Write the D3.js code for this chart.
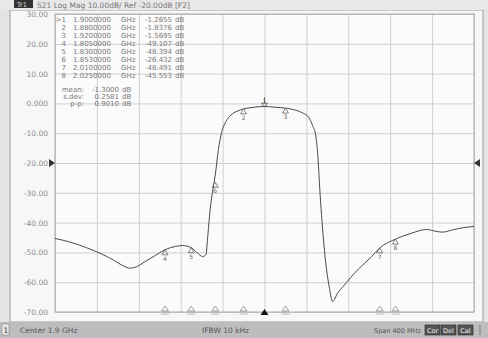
<!DOCTYPE html>
<html><head><meta charset="utf-8">
<script src="https://cdn.jsdelivr.net/npm/d3@7"></script>
<style>
html,body{margin:0;padding:0;background:#e6e6e6;}
svg{display:block;}
text{font-family:"DejaVu Sans",sans-serif;}
</style></head>
<body><svg id="c" width="488" height="338"></svg>
<script>
// ---- data ----
const freqGHz = [1.700,1.715,1.730,1.745,1.757,1.765,1.772,1.778,1.785,1.795,1.805,1.815,1.822,1.830,1.836,1.841,1.844,1.846,1.848,1.850,1.853,1.856,1.859,1.863,1.868,1.874,1.880,1.890,1.900,1.910,1.920,1.930,1.937,1.942,1.946,1.949,1.951,1.953,1.955,1.958,1.962,1.965,1.970,1.975,1.982,1.990,1.996,2.002,2.010,2.025,2.040,2.055,2.062,2.070,2.080,2.090,2.100];
const s21dB  = [-45.3,-46.6,-48.4,-50.6,-52.8,-54.5,-55.3,-54.8,-53.3,-51.2,-49.1,-48.0,-47.7,-48.4,-50.2,-51.4,-50.8,-44.0,-36.0,-30.5,-24.0,-15.5,-9.8,-6.2,-3.9,-2.6,-1.84,-1.3,-1.0,-1.3,-1.57,-2.3,-3.3,-4.6,-7.5,-11.0,-18.0,-30.0,-40.0,-52.0,-62.0,-66.5,-63.5,-61.5,-58.5,-55.5,-53.5,-51.5,-48.5,-45.55,-43.6,-42.3,-42.8,-43.2,-42.4,-41.7,-41.3];
const markerIds   = ["1","2","3","4","5","6","7","8"];
const markerFreq  = [1.9000000,1.8800000,1.9200000,1.8050000,1.8300000,1.8530000,2.0100000,2.0250000];
const markerValue = [-1.2655,-1.8376,-1.5695,-49.107,-48.394,-26.432,-48.491,-45.553];
const markerFreqText  = ["1.9000000","1.8800000","1.9200000","1.8050000","1.8300000","1.8530000","2.0100000","2.0250000"];
const markerValueText = ["-1.2655","-1.8376","-1.5695","-49.107","-48.394","-26.432","-48.491","-45.553"];
const statNames  = ["mean:","s.dev:","p-p:"];
const statValues = ["-1.3000","0.2581","0.9010"];
const yTicks  = [30,20,10,0,-10,-20,-30,-40,-50,-60,-70];
const yLabels = ["30.00","20.00","10.00","0.000","-10.00","-20.00","-30.00","-40.00","-50.00","-60.00","-70.00"];
const xTicks  = [1.70,1.74,1.78,1.82,1.86,1.90,1.94,1.98,2.02,2.06,2.10];
const titleText = "S21 Log Mag 10.00dB/ Ref -20.00dB [F2]";
const refLevel = -20;

// ---- layout ----
const svg = d3.select("#c");
const L=55,R=474,T=14,B=312;
const x = d3.scaleLinear().domain([1.7,2.1]).range([L,R]);
const y = d3.scaleLinear().domain([-70,30]).range([B,T]);

// background panels
svg.append("rect").attr("x",0).attr("y",0).attr("width",488).attr("height",338).attr("fill","#e4e4e4");
svg.append("rect").attr("x",10).attr("y",10).attr("width",473).attr("height",312).attr("fill","#f7f7f7").attr("stroke","#9a9a9a").attr("stroke-width",1);
svg.append("rect").attr("x",L).attr("y",T).attr("width",R-L).attr("height",B-T).attr("fill","#fbfbfb");

// title bar
svg.append("rect").attr("x",0).attr("y",0).attr("width",488).attr("height",10).attr("fill","#e8e8e8");
svg.append("rect").attr("x",14).attr("y",0).attr("width",19).attr("height",8).attr("fill","#333");
svg.append("text").attr("x",17).attr("y",7).attr("font-size",6.5).attr("fill","#ddd").text("Tr1");
svg.append("text").attr("x",37).attr("y",8).attr("font-size",7.5).attr("fill","#777").text(titleText);

// grid
const gx = svg.append("g").attr("transform",`translate(0,${B})`)
  .call(d3.axisBottom(x).tickValues(xTicks).tickSize(-(B-T)).tickFormat(""));
gx.select(".domain").remove();
gx.selectAll("line").attr("stroke","#cfcfcf").attr("stroke-width",1);
const gy = svg.append("g").attr("transform",`translate(${L},0)`)
  .call(d3.axisLeft(y).tickValues(yTicks).tickSize(-(R-L)).tickFormat((d,i)=>yLabels[i]).tickPadding(7));
gy.select(".domain").remove();
gy.selectAll("line").attr("stroke","#cfcfcf").attr("stroke-width",1);
gy.selectAll("text").attr("font-size",7.5).attr("fill","#8a8a8a").attr("font-family","DejaVu Sans");
svg.append("rect").attr("x",L).attr("y",T).attr("width",R-L).attr("height",B-T).attr("fill","none").attr("stroke","#a8a8a8");

// reference arrows
const ry = y(refLevel);
svg.append("path").attr("d",`M${L-6},${ry-4}L${L},${ry}L${L-6},${ry+4}Z`).attr("fill","#333");
svg.append("path").attr("d",`M${R+6},${ry-4}L${R},${ry}L${R+6},${ry+4}Z`).attr("fill","#333");

// marker table
const tbl = svg.append("g").attr("font-family","DejaVu Sans Mono").attr("font-size",7).attr("fill","#7a7a7a");
markerIds.forEach((id,i)=>{
  const ty = 22 + i*8;
  tbl.append("text").attr("x",66).attr("y",ty).attr("text-anchor","end").attr("font-family","DejaVu Sans Mono").text((i===0?">":"")+id);
  tbl.append("text").attr("x",73).attr("y",ty).attr("font-family","DejaVu Sans Mono").text(markerFreqText[i]);
  tbl.append("text").attr("x",121).attr("y",ty).attr("font-family","DejaVu Sans Mono").text("GHz");
  tbl.append("text").attr("x",172).attr("y",ty).attr("text-anchor","end").attr("font-family","DejaVu Sans Mono").text(markerValueText[i]);
  tbl.append("text").attr("x",175).attr("y",ty).attr("font-family","DejaVu Sans Mono").text("dB");
});
statNames.forEach((n,i)=>{
  const ty = 92 + i*7;
  tbl.append("text").attr("x",84).attr("y",ty).attr("text-anchor","end").attr("font-family","DejaVu Sans Mono").text(n);
  tbl.append("text").attr("x",119).attr("y",ty).attr("text-anchor","end").attr("font-family","DejaVu Sans Mono").text(statValues[i]);
  tbl.append("text").attr("x",122).attr("y",ty).attr("font-family","DejaVu Sans Mono").text("dB");
});

// trace
const line = d3.line().x((d,i)=>x(freqGHz[i])).y(d=>y(d)).curve(d3.curveMonotoneX);
svg.append("path").datum(s21dB).attr("d",line).attr("fill","none").attr("stroke","#4a4a4a").attr("stroke-width",1);

// markers on trace
const mg = svg.append("g");
markerIds.forEach((id,i)=>{
  const mx = x(markerFreq[i]), my = y(markerValue[i]);
  if(i===0){
    mg.append("line").attr("x1",mx).attr("x2",mx).attr("y1",my-10).attr("y2",my-4).attr("stroke","#666");
    mg.append("path").attr("d",`M${mx-3},${my-4}L${mx+3},${my-4}L${mx},${my}Z`).attr("fill","none").attr("stroke","#555").attr("stroke-width",0.8);
    mg.append("text").attr("x",mx).attr("y",my-4).attr("text-anchor","middle").attr("font-size",6).attr("fill","#666").text(id);
  } else {
    mg.append("path").attr("d",`M${mx},${my}L${mx-3},${my+5}L${mx+3},${my+5}Z`).attr("fill","none").attr("stroke","#666").attr("stroke-width",0.8);
    mg.append("text").attr("x",mx).attr("y",my+11).attr("text-anchor","middle").attr("font-size",6).attr("fill","#666").text(id);
  }
  // bottom indicators
  if(i===0){
    mg.append("path").attr("d",`M${mx-4},${B+3}L${mx+4},${B+3}L${mx},${B-3}Z`).attr("fill","#111");
  } else {
    mg.append("path").attr("d",`M${mx-3.5},${B-1}L${mx+3.5},${B-1}L${mx},${B-6}Z`).attr("fill","none").attr("stroke","#888").attr("stroke-width",0.8);
    mg.append("line").attr("x1",mx-4).attr("x2",mx+4).attr("y1",B+2).attr("y2",B+2).attr("stroke","#aaa").attr("stroke-width",0.8);
  }
});

// footer
svg.append("rect").attr("x",0).attr("y",322).attr("width",488).attr("height",16).attr("fill","#bdbdbd");
svg.append("rect").attr("x",2).attr("y",324).attr("width",7).attr("height",11).attr("fill","#e8e8e8").attr("stroke","#777").attr("stroke-width",0.5);
svg.append("text").attr("x",3.5).attr("y",333).attr("font-size",7.5).attr("fill","#333").text("1");
const ft = [["Center 1.9 GHz",20,7.5],["IFBW 10 kHz",202,7.5],["Span 400 MHz",374,6.5]];
ft.forEach(f=>svg.append("text").attr("x",f[1]).attr("y",333).attr("font-size",f[2]).attr("fill","#555").text(f[0]));
[["Cor",425],["Del",441],["Cal",458]].forEach(b=>{
  svg.append("rect").attr("x",b[1]).attr("y",325).attr("width",15).attr("height",10).attr("fill","#555").attr("stroke","#222").attr("stroke-width",0.6);
  svg.append("text").attr("x",b[1]+7.5).attr("y",333).attr("text-anchor","middle").attr("font-size",6.5).attr("fill","#eee").text(b[0]);
});
svg.append("line").attr("x1",480).attr("x2",480).attr("y1",325).attr("y2",335).attr("stroke","#777");
</script></body></html>
